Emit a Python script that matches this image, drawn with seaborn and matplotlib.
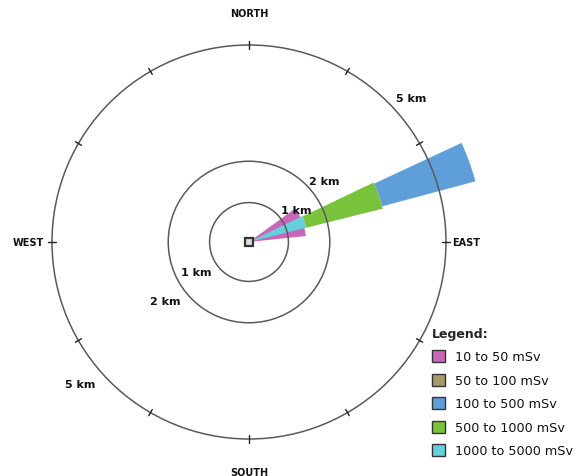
import numpy as np
import matplotlib
matplotlib.use("Agg")
import matplotlib.pyplot as plt
from matplotlib.patches import Wedge, Circle, Patch
import seaborn as sns

# Dose bands (legend order)
bands = ["10 to 50 mSv", "50 to 100 mSv", "100 to 500 mSv", "500 to 1000 mSv", "1000 to 5000 mSv"]
band_colors = ["#c966b8", "#a39c68", "#5f9fd9", "#78c23c", "#66cfdc"]

# Plume sectors: band index, inner radius (km), outer radius (km), start/end angle (deg, CCW from east)
sector_band = [0, 4, 3, 2]
sector_r_in = [0.0, 0.0, 1.5, 3.5]
sector_r_out = [1.45, 1.5, 3.5, 5.95]
sector_theta1 = [6.0, 14.0, 14.0, 15.0]
sector_theta2 = [36.0, 26.0, 25.5, 25.0]

# Range rings (km) and their labels
rings = [1, 2, 5]
ring_draw_r = [1.0, 2.05, 5.0]
ring_labels = ["1 km", "2 km", "5 km"]
label_r_ne = [1.45, 2.45, 5.5]
label_r_sw = [1.55, 2.6, 5.6]
label_ang_ne = [34, 39, 41.5]
label_ang_sw = [209.5, 215.5, 220]

directions = ["NORTH", "EAST", "SOUTH", "WEST"]
dir_angles = [90, 0, 270, 180]
dir_r = [5.8, 5.5, 5.85, 5.6]

sns.set_theme(style="white")
plt.rcParams["font.family"] = ["DejaVu Sans"]

PX = 39.4  # pixels per km
cx, cy = 249, 243
W, H = 578, 477
fig = plt.figure(figsize=(W / 100, H / 100), dpi=100)
ax = fig.add_axes([0, 0, 1, 1])
ax.set_xlim(-cx / PX, (W - cx) / PX)
ax.set_ylim((cy - H) / PX, cy / PX)
ax.set_aspect("equal")
ax.axis("off")

# Rings
for r in ring_draw_r:
    ax.add_patch(Circle((0, 0), r, fill=False, ec="#5a5a5a", lw=1.1, zorder=2))

# Tick marks on the outer ring every 30 degrees
for a in np.arange(0, 360, 30):
    t = np.deg2rad(a)
    r0, r1 = 5.0 - 0.09, 5.0 + 0.09
    ax.plot([r0 * np.cos(t), r1 * np.cos(t)], [r0 * np.sin(t), r1 * np.sin(t)],
            color="#222222", lw=1.0, zorder=3)

# Plume sectors
for b, ri, ro, t1, t2 in zip(sector_band, sector_r_in, sector_r_out, sector_theta1, sector_theta2):
    ax.add_patch(Wedge((0, 0), ro, t1, t2, width=ro - ri, fc=band_colors[b], ec="none", zorder=1))

# Source marker
ax.plot([0], [0], marker="s", ms=6, mfc="#dddddd", mec="#333333", mew=1.6, zorder=4)

# Ring labels
for lab, rn, an, rs, as_ in zip(ring_labels, label_r_ne, label_ang_ne, label_r_sw, label_ang_sw):
    for rr, aa in ((rn, an), (rs, as_)):
        t = np.deg2rad(aa)
        ax.text(rr * np.cos(t), rr * np.sin(t), lab, ha="center", va="center",
                fontsize=8, fontweight="bold", color="#111111", zorder=5)

# Compass labels
for d, a, r in zip(directions, dir_angles, dir_r):
    t = np.deg2rad(a)
    ax.text(r * np.cos(t), r * np.sin(t), d, ha="center", va="center",
            fontsize=7, fontweight="bold", color="#111111", zorder=5)

# Legend
handles = [Patch(fc=c, ec="#333333", lw=1.0, label=l) for c, l in zip(band_colors, bands)]
leg = ax.legend(handles=handles, title="Legend:", loc="upper left",
                bbox_to_anchor=(423 / W, 1 - 319 / H), frameon=False,
                fontsize=9.2, handlelength=1.05, handleheight=1.05, handletextpad=0.75,
                labelspacing=0.8, borderpad=0.2)
leg.get_title().set_fontweight("bold")
leg.get_title().set_fontsize(9)
for t in leg.get_texts():
    t.set_color("#111111")
leg._legend_box.align = "left"

fig.savefig("out.png", dpi=100)
